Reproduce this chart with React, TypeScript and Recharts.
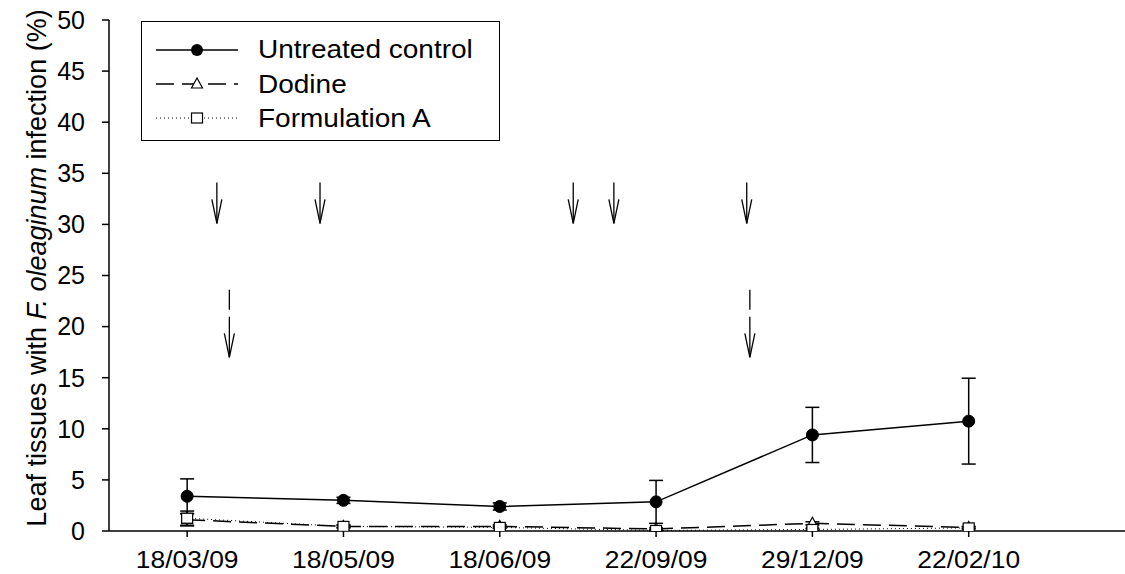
import { LineChart, Line, XAxis, YAxis, ErrorBar, ReferenceLine } from 'recharts'

const dates = ['18/03/09', '18/05/09', '18/06/09', '22/09/09', '29/12/09', '22/02/10']
const untreated = [3.4, 3.0, 2.4, 2.85, 9.4, 10.75]
const untreatedErr = [1.7, 0.3, 0.35, 2.1, 2.7, 4.2]
const dodine = [1.1, 0.45, 0.45, 0.2, 0.75, 0.35]
const dodineErr = [0.6, 0.1, 0.15, 0.1, 0.15, 0.1]
const formulationA = [1.25, 0.45, 0.35, 0.05, 0.15, 0.3]
const formulationAErr = [0.7, 0.15, 0.1, 0.05, 0.1, 0.1]
const yTicks = [0, 5, 10, 15, 20, 25, 30, 35, 40, 45, 50]

// treatment arrows, x in date-index units
const formulationArrows = [0.19, 0.85, 2.47, 2.73, 3.58]
const formulationArrowSpan = [34.1, 30.1]
const dodineArrows = [0.27, 3.6]
const dodineArrowSpan = [23.6, 17.0]

const FONT = "'Liberation Sans', Arial, sans-serif"

const data = dates.map((d, i) => ({
  x: i,
  date: d,
  untreated: untreated[i],
  uErr: untreatedErr[i],
  dodine: dodine[i],
  dErr: dodineErr[i],
  formA: formulationA[i],
  fErr: formulationAErr[i],
}))

const CircleDot = (p: any) => <circle key={p.index} cx={p.cx} cy={p.cy} r={6} fill="#000" stroke="#000" />
const TriangleDot = (p: any) => (
  <polygon
    key={p.index}
    points={`${p.cx},${p.cy - 6} ${p.cx - 5.5},${p.cy + 4} ${p.cx + 5.5},${p.cy + 4}`}
    fill="#fff"
    stroke="#000"
    strokeWidth={1.2}
  />
)
const SquareDot = (p: any) => (
  <rect key={p.index} x={p.cx - 5.5} y={p.cy - 5} width={11} height={10} fill="#fff" stroke="#000" strokeWidth={1.2} />
)

const arrowShape = (dashed: boolean) => (p: any) => {
  const x = p.x1
  const top = Math.min(p.y1, p.y2)
  const tip = Math.max(p.y1, p.y2)
  return (
    <g>
      <line x1={x} y1={top} x2={x} y2={tip} stroke="#000" strokeWidth={1.3} strokeDasharray={dashed ? '20 7 200' : undefined} />
      <polyline points={`${x - 5},${tip - 24} ${x},${tip} ${x + 5},${tip - 24}`} fill="none" stroke="#000" strokeWidth={1.3} />
    </g>
  )
}

// date labels in the original are a little wider than tall
const DateTick = (p: any) => (
  <g transform={`translate(${p.x},${p.y})`}>
    <text transform="scale(1.1,1)" textAnchor="middle" dy="0.71em" fontSize={24} fontFamily={FONT} fill="#000">
      {dates[p.payload.value]}
    </text>
  </g>
)

const YLabel = () => (
  <text x={46} y={268} transform="rotate(-90 46 268)" textAnchor="middle" fontSize={27} fontFamily={FONT} fill="#000">
    Leaf tissues with <tspan fontStyle="italic">F. oleaginum</tspan> infection (%)
  </text>
)

function LegendBox() {
  const rows = [
    { label: 'Untreated control', dash: undefined, marker: 'circle' },
    { label: 'Dodine', dash: '18 8', marker: 'triangle' },
    { label: 'Formulation A', dash: '1 3', marker: 'square' },
  ]
  const boxLeft = 141
  const boxTop = 21
  return (
    <div
      style={{
        position: 'absolute',
        left: boxLeft,
        top: boxTop,
        width: 359,
        height: 120,
        border: '1.5px solid #000',
        boxSizing: 'border-box',
        background: '#fff',
        fontFamily: FONT,
        fontSize: 25,
      }}
    >
      {rows.map((r, i) => {
        const mid = 50 + i * 34.3 - boxTop - 1.5
        const base = 58.3 + i * 34.3 - boxTop - 1.5
        return (
          <div key={r.label}>
            <svg style={{ position: 'absolute', left: 12, top: mid - 10 }} width={86} height={20}>
              <line x1={2} y1={10} x2={84} y2={10} stroke="#000" strokeWidth={r.dash === '1 3' ? 1 : 1.5} strokeDasharray={r.dash} />
              {r.marker === 'circle' && <circle cx={43} cy={10} r={6} fill="#000" />}
              {r.marker === 'triangle' && <polygon points="43,4 37.5,14 48.5,14" fill="#fff" stroke="#000" strokeWidth={1.2} />}
              {r.marker === 'square' && <rect x={37.5} y={5} width={11} height={10} fill="#fff" stroke="#000" strokeWidth={1.2} />}
            </svg>
            <div
              style={{
                position: 'absolute',
                left: 116,
                top: base - 22.6,
                lineHeight: '28px',
                whiteSpace: 'nowrap',
                transform: 'scaleX(1.12)',
                transformOrigin: 'left center',
              }}
            >
              {r.label}
            </div>
          </div>
        )
      })}
    </div>
  )
}

export default function App() {
  return (
    <div style={{ position: 'absolute', left: 0, top: 0, width: 1125, height: 574, background: '#fff' }}>
      <LineChart width={1125} height={574} data={data} margin={{ top: 20, right: 0, bottom: 0, left: 0 }}>
        <XAxis
          dataKey="x"
          type="number"
          domain={[-0.5, 6]}
          ticks={[0, 1, 2, 3, 4, 5]}
          height={43}
          tickSize={6}
          tickMargin={14}
          stroke="#000"
          strokeWidth={1.5}
          tick={DateTick}
          allowDataOverflow
        />
        <YAxis
          type="number"
          domain={[0, 50]}
          ticks={yTicks}
          width={109}
          tickSize={7}
          tickMargin={17}
          stroke="#000"
          strokeWidth={1.5}
          tick={{ fill: '#000', fontSize: 25, fontFamily: FONT }}
          label={{ content: () => <YLabel /> }}
          allowDataOverflow
        />
        {formulationArrows.map((ax) => (
          <ReferenceLine
            key={'f' + ax}
            segment={[{ x: ax, y: formulationArrowSpan[0] }, { x: ax, y: formulationArrowSpan[1] }]}
            shape={arrowShape(false)}
          />
        ))}
        {dodineArrows.map((ax) => (
          <ReferenceLine
            key={'d' + ax}
            segment={[{ x: ax, y: dodineArrowSpan[0] }, { x: ax, y: dodineArrowSpan[1] }]}
            shape={arrowShape(true)}
          />
        ))}
        <Line
          dataKey="dodine"
          stroke="#000"
          strokeWidth={1.5}
          strokeDasharray="18 8"
          dot={TriangleDot}
          activeDot={false}
          isAnimationActive={false}
        >
          <ErrorBar dataKey="dErr" direction="y" width={7} stroke="#000" strokeWidth={1.5} />
        </Line>
        <Line
          dataKey="formA"
          stroke="#000"
          strokeWidth={1}
          strokeDasharray="1 3"
          dot={SquareDot}
          activeDot={false}
          isAnimationActive={false}
        >
          <ErrorBar dataKey="fErr" direction="y" width={7} stroke="#000" strokeWidth={1.5} />
        </Line>
        <Line
          dataKey="untreated"
          stroke="#000"
          strokeWidth={1.5}
          dot={CircleDot}
          activeDot={false}
          isAnimationActive={false}
        >
          <ErrorBar dataKey="uErr" direction="y" width={7} stroke="#000" strokeWidth={1.5} />
        </Line>
      </LineChart>
      <LegendBox />
    </div>
  )
}
